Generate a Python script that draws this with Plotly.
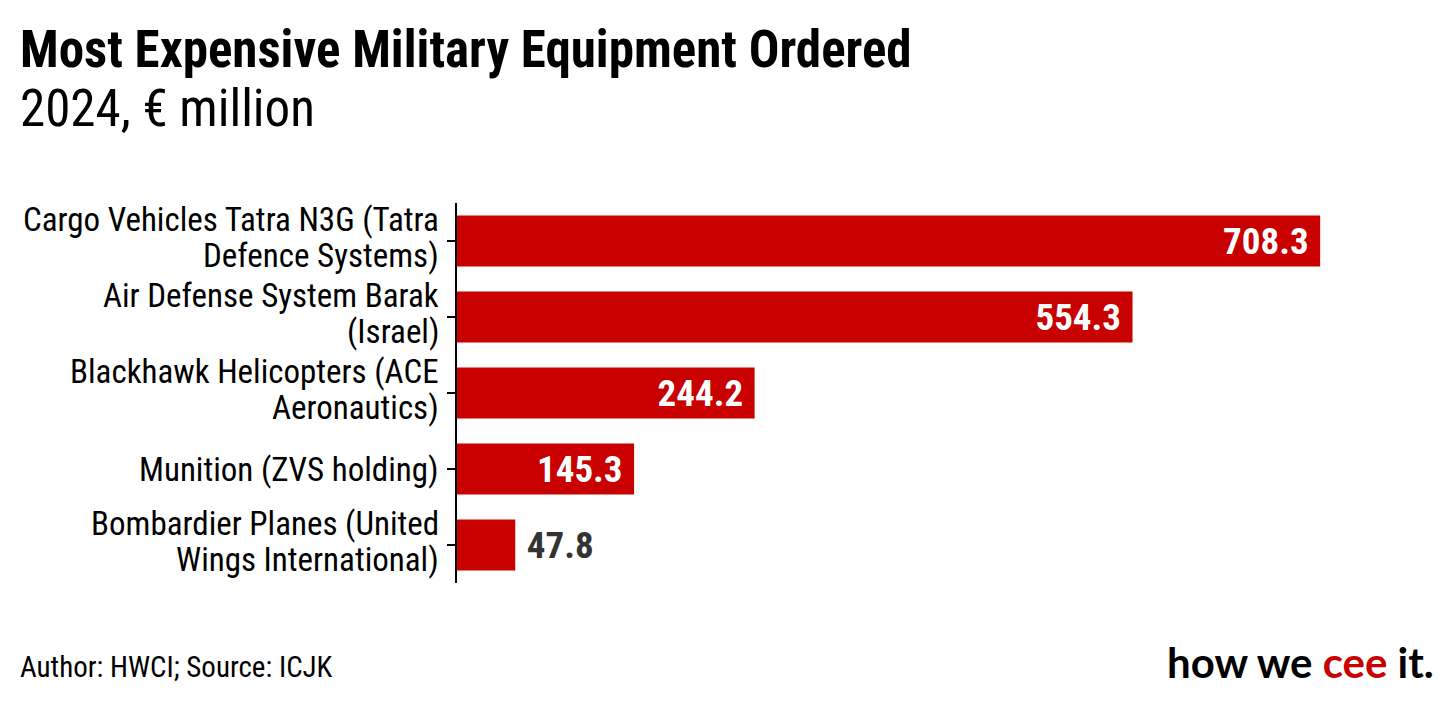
import plotly.graph_objects as go

# data (top to bottom as in the chart)
items = [
    "Cargo Vehicles Tatra N3G (Tatra<br>Defence Systems)",
    "Air Defense System Barak<br>(Israel)",
    "Blackhawk Helicopters (ACE<br>Aeronautics)",
    "Munition (ZVS holding)",
    "Bombardier Planes (United<br>Wings International)",
]
values = [708.3, 554.3, 244.2, 145.3, 47.8]

title = "Most Expensive Military Equipment Ordered"
subtitle = "2024, € million"
source = "Author: HWCI; Source: ICJK"

RED = "#c80000"
FONT = "Roboto Condensed, Liberation Sans Narrow, DejaVu Sans Condensed, sans-serif"

# small bars get their label outside
inside = [v > 100 for v in values]
text_pos = ["inside" if i else "outside" for i in inside]
text_col = ["white" if i else "#333333" for i in inside]
labels = [f"{v:.1f}&nbsp;" if i else f"&nbsp;{v:.1f}" for v, i in zip(values, inside)]

W, H = 1456, 708
L, R, T, B = 449, 93, 195, 133

fig = go.Figure(go.Bar(
    x=values,
    y=items,
    orientation="h",
    marker=dict(color=RED, line=dict(width=0)),
    text=labels,
    textposition=text_pos,
    insidetextanchor="end",
    textfont=dict(family=FONT, size=37, color=text_col, weight="bold"),
    cliponaxis=False,
    hoverinfo="skip",
))

fig.update_layout(
    width=W, height=H,
    paper_bgcolor="white", plot_bgcolor="white",
    margin=dict(l=L, r=R, t=T, b=B),
    bargap=0.33,
    showlegend=False,
    font=dict(family=FONT, color="black"),
)
fig.update_xaxes(range=[0, 750], visible=False)
fig.update_yaxes(
    range=[len(items) - 0.5, -0.5],
    showline=True, linecolor="black", linewidth=2,
    ticks="outside", ticklen=8, tickcolor="black", tickwidth=2,
    showticklabels=False,
    showgrid=False,
)

# category labels drawn line by line so the line spacing stays tight
LINE = 36
for cat in items:
    lines = cat.split("<br>")
    n = len(lines)
    for k, line in enumerate(lines):
        shift = -(k - (n - 1) / 2) * LINE + (3.5 if n > 1 else 0)
        fig.add_annotation(
            x=0, y=cat, xref="x", yref="y", text=line, showarrow=False,
            xanchor="right", yanchor="middle", xshift=-16, yshift=shift,
            font=dict(family=FONT, size=33, color="black"),
        )


def px(x, y):
    # figure pixels -> paper coords
    return dict(xref="paper", yref="paper",
                x=(x - L) / (W - L - R),
                y=(H - B - y) / (H - T - B))


fig.add_annotation(text=f"<b>{title}</b>", showarrow=False, xanchor="left", yanchor="top",
                   font=dict(family=FONT, size=51, color="black"), **px(10, 10))
fig.add_annotation(text=subtitle, showarrow=False, xanchor="left", yanchor="top",
                   font=dict(family=FONT, size=51, color="black"), **px(10, 69))
fig.add_annotation(text=source, showarrow=False, xanchor="left", yanchor="middle",
                   font=dict(family=FONT, size=29, color="black"), **px(10, 659))
fig.add_annotation(
    text="<b>how we <span style='color:#c80000'>cee</span> it.</b>",
    showarrow=False, xanchor="right", yanchor="middle",
    font=dict(family="Lato, sans-serif", size=42, color="black", weight=900),
    **px(1428, 654))

fig.write_html("out.html")
